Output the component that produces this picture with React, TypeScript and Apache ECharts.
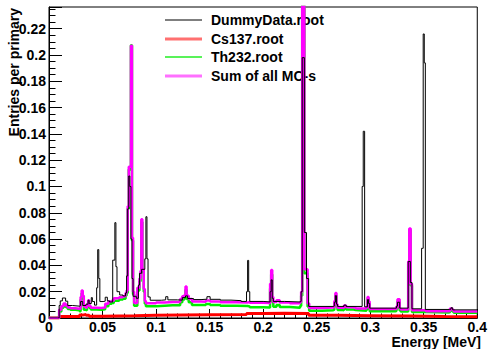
import React, { useEffect, useRef } from "react";
import * as echarts from "echarts";

// Bin low edges (MeV) and bin contents (entries per primary); each bin runs to the next edge.
const dummyData: [number, number][] = [
  [0, 0], [0.0095, 0.0095], [0.0105, 0.013], [0.0125, 0.0152], [0.0155, 0.0128], [0.0175, 0.0095],
  [0.022, 0.009], [0.0285, 0.0095], [0.0295, 0.0125], [0.0315, 0.0095], [0.0345, 0.0105],
  [0.0365, 0.0135], [0.0375, 0.011], [0.0395, 0.0155], [0.0405, 0.0125], [0.0425, 0.0098],
  [0.0445, 0.023], [0.0455, 0.052], [0.0465, 0.03], [0.0475, 0.0125], [0.0505, 0.0128],
  [0.0525, 0.0158], [0.0545, 0.013], [0.0565, 0.0122], [0.0595, 0.044], [0.0615, 0.0725],
  [0.0625, 0.039], [0.0635, 0.02], [0.066, 0.0175], [0.069, 0.0168], [0.0715, 0.019],
  [0.0725, 0.032], [0.0735, 0.083], [0.0745, 0.108], [0.0755, 0.1], [0.0765, 0.06],
  [0.0775, 0.03], [0.0785, 0.0165], [0.0815, 0.015], [0.0835, 0.025], [0.0845, 0.034],
  [0.0865, 0.037], [0.0895, 0.045], [0.0905, 0.077], [0.0915, 0.045], [0.0925, 0.016],
  [0.0945, 0.0135], [0.105, 0.0138], [0.109, 0.0162], [0.111, 0.0138], [0.12, 0.0136],
  [0.1245, 0.0155], [0.1275, 0.0168], [0.1295, 0.0148], [0.135, 0.014], [0.142, 0.0143],
  [0.1475, 0.0162], [0.1505, 0.0142], [0.16, 0.0136], [0.17, 0.0132], [0.1795, 0.0126],
  [0.1845, 0.02], [0.1855, 0.0438], [0.1865, 0.02], [0.1875, 0.0126], [0.2, 0.0122],
  [0.2065, 0.02], [0.2075, 0.029], [0.2085, 0.015], [0.2095, 0.0126], [0.22, 0.0122],
  [0.2345, 0.0126], [0.2355, 0.02], [0.2365, 0.198], [0.2385, 0.065], [0.2405, 0.03],
  [0.2425, 0.0088], [0.2655, 0.009], [0.2665, 0.012], [0.2675, 0.017], [0.2685, 0.0105],
  [0.2695, 0.0088], [0.2755, 0.0098], [0.2775, 0.0088], [0.2925, 0.1], [0.2935, 0.142],
  [0.2948, 0.0085], [0.2975, 0.014], [0.2985, 0.011], [0.2995, 0.0075], [0.3245, 0.009],
  [0.3255, 0.012], [0.3275, 0.0075], [0.3355, 0.043], [0.3375, 0.027], [0.339, 0.007],
  [0.348, 0.053], [0.3495, 0.216], [0.3505, 0.194], [0.3515, 0.0065], [0.374, 0.0068],
  [0.3755, 0.0078], [0.377, 0.0062], [0.4, 0.0062],
];

const cs137: [number, number][] = [
  [0, 0], [0.0095, 0.0012], [0.0285, 0.0022], [0.0315, 0.0026], [0.0345, 0.002], [0.0375, 0.0014],
  [0.05, 0.0018], [0.08, 0.0021], [0.1, 0.0025], [0.15, 0.0027], [0.1845, 0.0035], [0.2, 0.0037],
  [0.22, 0.0035], [0.2425, 0.002], [0.27, 0.0018], [0.3, 0.0016], [0.34, 0.0012], [0.37, 0.001],
  [0.4, 0.001],
];

const th232: [number, number][] = [
  [0, 0], [0.0095, 0.005], [0.0115, 0.0078], [0.0135, 0.0098], [0.0155, 0.0083], [0.0175, 0.0068],
  [0.02, 0.0062], [0.0245, 0.0058], [0.0285, 0.0052], [0.0295, 0.0138], [0.0305, 0.0188],
  [0.0315, 0.0144], [0.0325, 0.0062], [0.0345, 0.0058], [0.0355, 0.0085], [0.0365, 0.0115],
  [0.0375, 0.0078], [0.039, 0.0064], [0.0445, 0.0062], [0.049, 0.0066], [0.0525, 0.009],
  [0.0555, 0.0108], [0.0585, 0.0114], [0.0605, 0.0132], [0.0655, 0.014], [0.069, 0.0147],
  [0.0715, 0.0171], [0.0725, 0.019], [0.0735, 0.083], [0.0745, 0.113], [0.0765, 0.2075],
  [0.0775, 0.059], [0.0785, 0.018], [0.0795, 0.0094], [0.0825, 0.021], [0.0845, 0.028],
  [0.0855, 0.034], [0.0862, 0.073], [0.0872, 0.035], [0.0885, 0.02], [0.0895, 0.0108],
  [0.0905, 0.009], [0.1, 0.0094], [0.108, 0.0097], [0.1155, 0.0097], [0.1225, 0.012],
  [0.1245, 0.014], [0.1265, 0.015], [0.1275, 0.0214], [0.1285, 0.0144], [0.1305, 0.0119],
  [0.1335, 0.0099], [0.142, 0.0098], [0.1465, 0.0107], [0.1505, 0.0099], [0.16, 0.0093],
  [0.175, 0.0091], [0.1855, 0.0088], [0.1875, 0.0081], [0.2, 0.0079], [0.2065, 0.0224],
  [0.2075, 0.033], [0.2085, 0.0124], [0.2095, 0.0086], [0.2125, 0.0099], [0.2155, 0.0083],
  [0.225, 0.0078], [0.2345, 0.0092], [0.2355, 0.017], [0.2365, 0.26], [0.2385, 0.034],
  [0.2415, 0.0088], [0.243, 0.0056], [0.255, 0.0059], [0.2655, 0.0063], [0.2665, 0.0112],
  [0.2675, 0.0172], [0.2685, 0.0087], [0.2695, 0.006], [0.2745, 0.0058], [0.2755, 0.0077],
  [0.2775, 0.0064], [0.2845, 0.006], [0.2865, 0.0055], [0.2965, 0.0066], [0.2975, 0.0144],
  [0.2985, 0.0109], [0.2995, 0.0052], [0.3235, 0.0053], [0.3245, 0.0073], [0.3255, 0.0127],
  [0.3275, 0.0057], [0.3285, 0.005], [0.3345, 0.005], [0.3355, 0.0416], [0.3365, 0.0667],
  [0.3378, 0.0247], [0.339, 0.0046], [0.352, 0.0041], [0.373, 0.0043], [0.3745, 0.0061],
  [0.3765, 0.0051], [0.378, 0.004], [0.4, 0.004],
];

const sumMC: [number, number][] = [
  [0, 0], [0.0095, 0.0062], [0.0115, 0.009], [0.0135, 0.011], [0.0155, 0.0095], [0.0175, 0.008],
  [0.02, 0.0074], [0.0245, 0.007], [0.0285, 0.0074], [0.0295, 0.016], [0.0305, 0.021],
  [0.0315, 0.017], [0.0325, 0.0088], [0.0345, 0.0078], [0.0355, 0.0105], [0.0365, 0.0135],
  [0.0375, 0.0092], [0.039, 0.0078], [0.0445, 0.0076], [0.049, 0.008], [0.0525, 0.0108],
  [0.0555, 0.0126], [0.0585, 0.0132], [0.0605, 0.015], [0.0655, 0.0158], [0.069, 0.0165],
  [0.0715, 0.019], [0.0725, 0.021], [0.0735, 0.085], [0.0745, 0.115], [0.0765, 0.207],
  [0.0775, 0.061], [0.0785, 0.02], [0.0795, 0.0115], [0.0825, 0.023], [0.0845, 0.03],
  [0.0855, 0.036], [0.0862, 0.075], [0.0872, 0.037], [0.0885, 0.022], [0.0895, 0.013],
  [0.0905, 0.0112], [0.1, 0.0118], [0.108, 0.0122], [0.1155, 0.0122], [0.1225, 0.0145],
  [0.1245, 0.0165], [0.1265, 0.0175], [0.1275, 0.024], [0.1285, 0.017], [0.1305, 0.0145],
  [0.1335, 0.0125], [0.142, 0.0124], [0.1465, 0.0134], [0.1505, 0.0126], [0.16, 0.012],
  [0.175, 0.0118], [0.1855, 0.0122], [0.1875, 0.0116], [0.2, 0.0115], [0.2065, 0.026],
  [0.2075, 0.0365], [0.2085, 0.016], [0.2095, 0.0122], [0.2125, 0.0135], [0.2155, 0.0118],
  [0.225, 0.0112], [0.2345, 0.0122], [0.2355, 0.02], [0.2365, 0.26], [0.2385, 0.037],
  [0.2415, 0.011], [0.243, 0.0076], [0.255, 0.0079], [0.2655, 0.0082], [0.2665, 0.013],
  [0.2675, 0.019], [0.2685, 0.0105], [0.2695, 0.0078], [0.2745, 0.0076], [0.2755, 0.0095],
  [0.2775, 0.0082], [0.2845, 0.0078], [0.2865, 0.0072], [0.2965, 0.0082], [0.2975, 0.016],
  [0.2985, 0.0125], [0.2995, 0.0068], [0.3235, 0.0068], [0.3245, 0.0088], [0.3255, 0.0142],
  [0.3275, 0.0072], [0.3285, 0.0064], [0.3345, 0.0064], [0.3355, 0.043], [0.3365, 0.068],
  [0.3378, 0.026], [0.339, 0.0058], [0.352, 0.0052], [0.373, 0.0054], [0.3745, 0.0072],
  [0.3765, 0.0062], [0.378, 0.005], [0.4, 0.005],
];

const seriesNames = ["DummyData.root", "Cs137.root", "Th232.root", "Sum of all MC-s"];
const xTitle = "Energy [MeV]";
const yTitle = "Entries per primary";

const FONT = "'Liberation Sans', Arial, Helvetica, sans-serif";

const lineColors = ["#000000", "#ff0000", "#00ee00", "#ff00ff"];
const lineWidths = [1, 3, 2.5, 2.5];
const legendColors = ["#000000", "#ff7070", "#22ee22", "#ff70ff"];
const legendIconHeights = [1, 3, 1.5, 3];
const legendTops = [13, 32, 50, 69];
const seriesData = [dummyData, cs137, th232, sumMC];
const seriesZ = [5, 2, 3, 4];

export default function App() {
  const ref = useRef<HTMLDivElement>(null);
  useEffect(() => {
    if (!ref.current) return;
    const chart = echarts.init(ref.current, undefined, { renderer: "svg" });
    const labelStyle = { fontFamily: FONT, fontWeight: "bold" as const, fontSize: 14, color: "#000" };
    chart.setOption({
      animation: false,
      backgroundColor: "#fff",
      grid: { left: 49, top: 7, width: 432, height: 311, show: true, borderColor: "#000", borderWidth: 1, backgroundColor: "transparent" },
      legend: seriesNames.map((name, i) => ({
        orient: "vertical",
        left: 165,
        top: legendTops[i],
        padding: 0,
        itemWidth: 37,
        itemHeight: legendIconHeights[i],
        icon: "rect",
        selectedMode: false,
        textStyle: { ...labelStyle, lineHeight: 14, padding: [0, 0, 0, 4] },
        data: [{ name, itemStyle: { color: legendColors[i], borderWidth: 0 } }],
      })),
      xAxis: {
        type: "value",
        min: 0,
        max: 0.4,
        interval: 0.05,
        axisLine: { lineStyle: { color: "#000", width: 1 } },
        axisTick: { inside: true, length: 9, lineStyle: { color: "#000" } },
        minorTick: { show: true, splitNumber: 5, length: 4.5, lineStyle: { color: "#000" } },
        splitLine: { show: false },
        axisLabel: { ...labelStyle, margin: 2, lineHeight: 13 },
      },
      yAxis: {
        type: "value",
        min: 0,
        max: 0.2365,
        interval: 0.02,
        axisLine: { lineStyle: { color: "#000", width: 1 } },
        axisTick: { inside: true, length: 13, lineStyle: { color: "#000" } },
        minorTick: { show: true, splitNumber: 4, length: 6.5, lineStyle: { color: "#000" } },
        splitLine: { show: false },
        axisLabel: { ...labelStyle, margin: 3, showMaxLabel: false },
      },
      graphic: [
        {
          type: "text",
          x: 481,
          y: 342,
          style: { text: xTitle, font: `bold 14px ${FONT}`, lineHeight: 12, fill: "#000", align: "right", verticalAlign: "middle" },
        },
        {
          type: "text",
          x: 14,
          y: 8,
          rotation: Math.PI / 2,
          style: { text: yTitle, font: `bold 14px ${FONT}`, fill: "#000", align: "right", verticalAlign: "middle" },
        },
      ],
      series: seriesNames.map((name, i) => ({
        name,
        type: "line",
        step: "end",
        symbol: "none",
        data: seriesData[i],
        lineStyle: { color: lineColors[i], width: lineWidths[i] },
        itemStyle: { color: lineColors[i] },
        z: seriesZ[i],
      })),
    });
    return () => chart.dispose();
  }, []);
  return <div ref={ref} style={{ position: "fixed", left: 0, top: 0, width: 490, height: 349 }} />;
}
